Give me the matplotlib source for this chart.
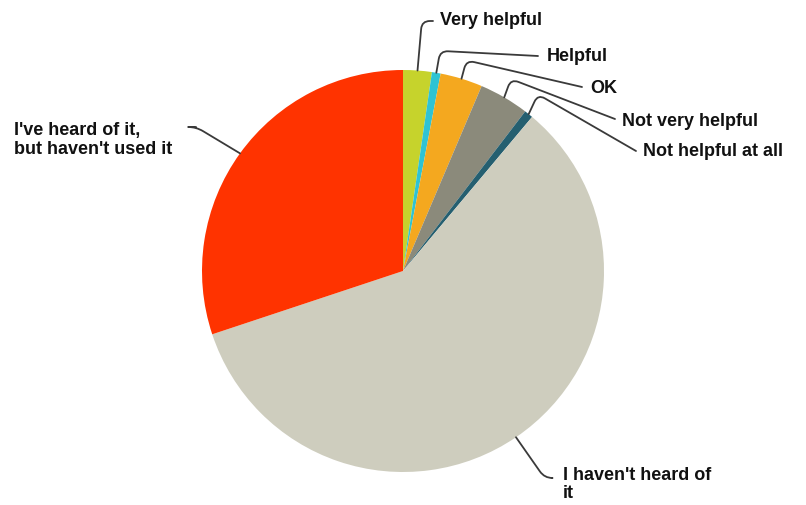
import numpy as np
import matplotlib
matplotlib.use("Agg")
import matplotlib.pyplot as plt

# survey answers, percent
labels = ["Very helpful", "Helpful", "OK", "Not very helpful",
          "Not helpful at all", "I haven't heard of\nit",
          "I've heard of it,\nbut haven't used it"]
values = [2.3, 0.7, 3.4, 4.0, 0.7, 58.8, 30.1]
colors = ["#c6d32c", "#2fc3d3", "#f4a81f", "#8b8a7b", "#255f70", "#cecdbe", "#ff3300"]

W, H = 806, 506
cx, cy, r = 403, H - 272, 201

fig = plt.figure(figsize=(W / 100, H / 100), dpi=100)
ax = fig.add_axes([0, 0, 1, 1])

wedges, _ = ax.pie(values, colors=colors, startangle=90, counterclock=False,
                   center=(cx, cy), radius=r, wedgeprops=dict(linewidth=0))
ax.set_xlim(0, W)
ax.set_ylim(0, H)
ax.set_aspect("equal")
ax.axis("off")

# label position (pixel, from top), leader end, angle at text end, angle at slice end
label_pos = [(440, 20), (547, 56), (590, 88), (622, 121), (643, 152), (563, 467), (14, 140)]
line_end = [(433, 22), (538, 57), (582, 88), (615, 120), (636, 152), (552, 479), (196, 128)]
angA = [0, -3, -13, -21, -30, 0, 0]
angB = [85, 80, 75, 70, 65, -55, 149]
va = ["center"] * 5 + ["top", "center"]

for w, lab, (tx, ty), (lx, ly), a, b, v in zip(wedges, labels, label_pos, line_end, angA, angB, va):
    mid = np.deg2rad((w.theta1 + w.theta2) / 2)
    px, py = cx + r * np.cos(mid), cy + r * np.sin(mid)
    ax.annotate("", xy=(px, py), xytext=(lx, H - ly),
                arrowprops=dict(arrowstyle="-", color="#3a3a3a", lw=1.3,
                                shrinkA=0, shrinkB=0,
                                connectionstyle=f"angle,angleA={a},angleB={b},rad=8"))
    ax.text(tx, H - ty, lab, ha="left", va=v,
            fontsize=13, fontweight="bold", family="Liberation Sans", color="#111111",
            linespacing=1.1)

fig.savefig("out.png", dpi=100)
